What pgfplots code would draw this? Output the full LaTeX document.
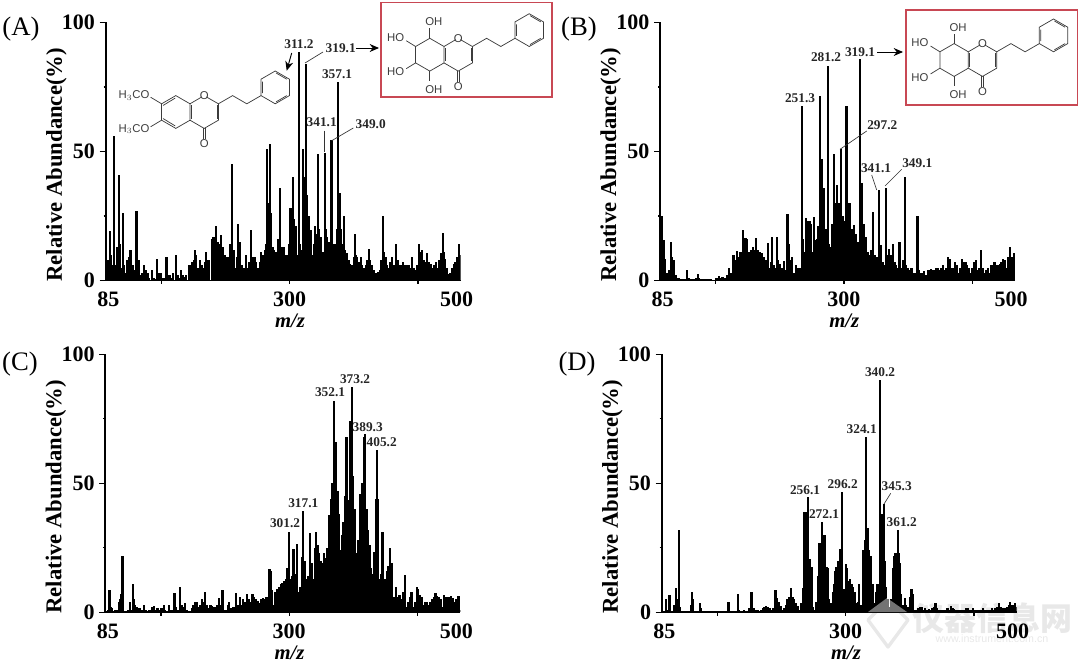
\documentclass[border=0pt]{standalone}
\usepackage{fontspec}
\setmainfont{Liberation Serif}
\newfontfamily\sansf{Liberation Sans}
\newfontfamily\cjk{Noto Sans CJK SC}
\usepackage{pgfplots}
\pgfplotsset{compat=1.18}
\usetikzlibrary{arrows.meta}

\definecolor{boxred}{RGB}{200,72,84}
\definecolor{struct}{RGB}{60,60,60}

\pgfplotsset{
  spectrum/.style={
    scale only axis,
    width=266.25pt, height=193.5pt,
    anchor=south west,
    xmin=85, xmax=500, ymin=0, ymax=100,
    axis x line*=bottom, axis y line*=left,
    axis line style={line width=1.3pt, -},
    xtick={85,300,500},
    xticklabels={\hspace*{4pt}85,300,500\hspace*{6pt}},
    xtick style={draw=none},
    extra x ticks={150,300,450},
    extra x tick labels={,,},
    extra x tick style={major tick length=2.5pt, xtick style={draw=black,line width=1pt}},
    ytick={0,50,100},
    yticklabels={0,50,100},
    minor ytick={25,75},
    major tick length=4.5pt,
    minor tick length=1.5pt,
    tick align=outside,
    ytick style={line width=1pt, black},
    minor y tick style={line width=1pt, black},
    ticklabel style={font=\fontsize{16.5}{18}\bfseries},
    xticklabel style={yshift=-.5pt},
    xlabel={\textit{m/z}},
    ylabel={Relative Abundance(\%)},
    xlabel style={font=\fontsize{15.5}{17}\bfseries, at={(axis description cs:0.519,-0.155)}, anchor=center},
    ylabel style={font=\fontsize{17}{19}\bfseries, at={(axis description cs:-0.139,0.448)}, anchor=center, rotate=0},
  },
  sticks/.style={ycomb, black, no markers, line width=1.65pt},
}

% chromone skeleton, coordinates in bond lengths, y downwards
\newcommand{\chromone}[3]{%
  \begin{scope}[shift={(#1,#2)}, x=#3*.75pt, y=-#3*.75pt, draw=struct, line width=.55pt]
    \draw (-.866,-1) -- (0,-.5) -- (0,.5) -- (-.866,1) -- (-1.732,.5) -- (-1.732,-.5) -- cycle;
    \draw (0,-.5) -- (.72,-.92) (1.0,-.92) -- (1.732,-.5) -- (1.732,.5) -- (.866,1) -- (0,.5);
    \draw (.09,-.4) -- (.09,.4) (1.64,-.4) -- (1.64,.4);
    \draw (.8,1) -- (.8,1.65) (.93,1) -- (.93,1.65);
    \draw (1.732,-.5) -- (2.598,-1) -- (3.464,-.5) -- (4.33,-1);
    \draw (4.33,-1) -- (4.33,-2) -- (5.196,-2.5) -- (6.062,-2) -- (6.062,-1) -- (5.196,-.5) -- cycle;
    \draw (4.42,-1.15) -- (4.42,-1.85) (5.25,-2.38) -- (5.9,-2.0) (5.9,-1.0) -- (5.25,-.62);
    \node[text=struct, font=\sansf\fontsize{8.5}{9}\selectfont, inner sep=0pt] at (.866,-1) {O};
    \node[text=struct, font=\sansf\fontsize{8.5}{9}\selectfont, inner sep=0pt] at (.866,1.95) {O};
  \end{scope}}

% hexahydroxy left ring substituents
\newcommand{\tetraol}[3]{%
  \begin{scope}[shift={(#1,#2)}, x=#3*.75pt, y=-#3*.75pt, draw=struct, line width=.55pt,
      every node/.style={text=struct, font=\sansf\fontsize{8.5}{9}\selectfont, inner sep=0pt}]
    \draw (-.866,-1) -- (-.866,-1.6) (-.866,1) -- (-.866,1.6);
    \draw (-1.732,-.5) -- (-2.3,-.85) (-1.732,.5) -- (-2.3,.85);
    \node at (-.62,-2.0) {OH};
    \node at (-.62,2.1) {OH};
    \node at (-2.95,-1.05) {HO};
    \node at (-2.95,1.05) {HO};
  \end{scope}}

\begin{document}
\begin{tikzpicture}[x=.75pt,y=.75pt]
\path[use as bounding box] (0,0) rectangle (1080,662);

% watermark, under the axes
\begin{scope}[yshift=496.5pt, x=.75pt, y=-.75pt]
\node[font=\cjk\bfseries\fontsize{24}{26}\selectfont, text=black!9, inner sep=0pt] at (992,618) {仪器信息网};
\node[font=\sansf\fontsize{8}{9}\selectfont, text=black!9, inner sep=0pt] at (992,639) {www.instrument.com.cn};
\draw[black!9, line width=2.5pt, line join=round] (888,600) -- (908,620) -- (888,647) -- (868,620) -- cycle;
\end{scope}

% (A)
\begin{axis}[spectrum, at={(79.275pt,286.125pt)}]
\addplot[sticks] coordinates {
(85,3)(86,4)(88,8)(90,19)(91,10)(93,6)(95,56)(96,6)(98,13)(99,13)(101,41)(102,14)(103,5)(105,26)(106,6)(108,3)(110,8)(112,9)(114,12)(115,8)(117,6)(119,4)(121,27)(122,20)(124,8)(126,2)(128,3)(130,6)(132,4)(134,3)(136,1)(139,4)(141,1)(143,.5)(145,8.5)(147,3)(149,3)(151,1)(153,1)(156,9)(158,2)(160,2)(162,1)(164,3)(167,10)(169,2)(171,1)(173,4)(175,2)(177,1.5)(179,2)(182,6)(184,6)(186,7)(188,8)(189,12)(191,10)(193,5)(195,8)(197,6)(199,5)(201,7)(202,11)(204,8)(206,8)(209,16)(211,17)(214,21)(216,15)(218,14)(220,17.5)(222,13)(224,10)(226,9)(228,9)(230,12)(231,14)(233,45)(235,12)(237,5)(239,9)(240,22)(242,15)(244,6)(246,5)(249,10)(251,5)(253,7)(255,19.5)(257,9)(259,9)(261,7)(263,5)(265,7)(267,11)(269,10)(271,12)(273,14)(274,51)(275,30)(277,53)(278,26)(280,13)(282,12)(284,11)(286,16)(289,36)(291,13)(293,13)(295,10)(297,10)(299,14)(301,28)(302,22)(304,40)(305,24)(307,21)(308,9)(310,10)(311,88.6)(312,14)(314,12)(316,51)(317,40)(319,84)(320,33)(322,25)(324,15)(325,19.5)(327,10)(329,14)(330,21)(331,18)(333,49)(334,20)(336,17)(338,8)(339,11)(341,49.5)(342,20)(344,17)(346,15)(347,15)(349,54.4)(350,16)(352,14)(354,14)(355,20)(357,77)(359,34)(360,20)(362,14)(364,25)(365,12)(367,10.5)(369,8)(371,6.5)(373,6)(375,9)(376,18)(377,10)(379,9)(381,7)(383,9)(385,6)(387,5)(389,6)(391,8)(393,12.4)(394,8)(396,6)(398,4)(400,3)(402,3)(404,3.4)(406,4)(407,8)(409,25)(410,11)(412,9)(414,6)(416,5)(418,7)(420,9)(422,6)(424,14)(425,8)(427,8)(429,6)(431,6)(433,7)(435,6)(437,6)(439,6)(441,5)(443,9)(445,5)(447,4)(449,6)(451,14)(453,11)(455,12)(457,8)(459,7)(461,10.5)(463,7)(465,6.5)(467,5)(469,6)(471,7)(473,5)(475,8)(477,10.5)(479,18.6)(480,11)(482,8.5)(484,5)(486,2.7)(488,3)(490,5)(492,6.5)(494,7)(496,9)(498,14)(500,10)
};
\end{axis}

% (B)
\begin{axis}[spectrum, at={(495pt,286.125pt)}]
\addplot[sticks] coordinates {
(85,4)(87,25)(89,15.6)(91,8.5)(93,3)(95,3)(96,4)(98,15)(99,9)(101,8)(103,2)(105,1)(107,.8)(109,.6)(111,.5)(113,.5)(115,.5)(117,4)(119,.8)(121,.5)(123,.5)(125,.5)(127,1)(129,2.5)(131,1)(133,.5)(135,.5)(137,.6)(139,.6)(141,.6)(143,.5)(145,.4)(147,.3)(149,.3)(151,.8)(154,1.8)(156,.8)(158,1.2)(160,.8)(162,1)(164,2)(166,5)(168,3)(171,10)(173,8)(175,11.5)(177,9)(179,11)(180,11)(182,19.5)(183,15)(185,16.6)(187,16)(189,11)(191,10)(192,12)(194,13)(196,12)(197,16.6)(199,12)(201,11)(202,11)(204,10.5)(206,9)(208,7)(209,8)(211,14.6)(213,5)(215,7)(216,17)(218,6)(220,5)(222,17)(223,8)(225,6.5)(227,3)(228,5)(230,7.5)(232,4)(234,25.6)(236,14)(238,8)(239,9)(241,3)(243,3)(244,6)(246,5)(248,4)(249,5)(251,67.6)(252,16)(254,11)(256,24.4)(258,23)(260,23)(261,22)(263,11)(265,24.7)(267,15.6)(269,16)(270,21)(272,71.4)(274,47)(276,36)(277,36)(279,20)(281,83)(282,14)(284,13)(286,22)(288,49)(290,30)(292,37)(294,30)(295,26)(297,51)(299,25)(301,23)(303,67.6)(305,30)(307,30)(309,20)(311,18)(312,21.5)(314,18)(316,15)(318,14)(319,86)(321,37.6)(323,22)(325,12)(326,17)(328,11)(330,10)(332,12)(334,26.6)(336,10)(338,8)(339,9)(341,35)(343,13.7)(345,7)(347,6)(349,36)(351,10)(353,12.4)(355,10)(357,14)(359,7)(361,6)(363,5)(365,15)(367,5)(369,8)(371,40)(373,6)(375,5)(377,4)(379,5)(381,3)(383,3)(384,3)(386,25)(388,4)(390,3)(392,3)(394,3.5)(396,2)(398,4)(400,4)(402,4.5)(404,4)(406,4)(408,5)(410,5)(412,4)(414,5)(416,6)(418,4)(420,5)(422,9)(424,8.5)(426,5)(428,5)(430,7)(432,6)(434,3)(436,5)(438,8.5)(440,7)(442,7)(444,6)(446,5)(448,3)(450,5)(452,7)(454,8)(456,4)(458,5)(460,12)(462,5)(464,3)(466,4)(468,5)(470,3)(472,6)(474,6)(476,7)(478,6)(480,6)(482,6.5)(484,7)(486,8.5)(488,8)(490,5)(492,9)(494,13)(496,9)(498,8)(499,10.5)
};
\end{axis}

% (C)
\begin{axis}[spectrum, at={(78.975pt,37.275pt)}]
\addplot[sticks] coordinates {
(85,.5)(88,1)(90,8.7)(91,2)(93,1.5)(95,.5)(97,1)(99,1)(101,4)(102,5)(103,7)(105,22)(106,1)(108,.5)(110,.5)(112,1)(114,4)(115,1)(117,11)(118,5)(120,3)(122,2)(124,1.5)(126,1.5)(128,1)(130,3)(132,1)(134,.5)(136,1)(138,1)(140,2)(142,2.5)(144,1)(146,1.5)(148,1)(150,1.5)(152,1.5)(154,3)(155,1)(157,.5)(159,3)(161,.8)(163,1)(164,1)(166,7.4)(168,2)(170,1)(172,10)(174,3)(176,2)(178,3.5)(180,1)(182,.5)(184,.5)(186,1.5)(188,3)(190,4)(192,4)(194,2)(196,3)(198,5)(200,4)(202,8)(204,3)(206,1.5)(208,3)(210,2.5)(212,2)(214,2)(216,3)(218,5.5)(220,3)(222,8.7)(224,1)(226,1)(228,3)(230,4)(232,1.5)(234,2)(236,2)(238,7.4)(240,3)(242,6)(244,3)(246,5)(248,4)(251,7)(253,5)(255,4)(257,7)(259,6)(261,5)(263,4.5)(265,3.5)(267,5)(269,5.5)(271,5)(273,6)(275,6)(277,16.7)(278,16)(280,8.6)(282,3)(284,8)(286,9)(288,10)(290,11)(292,11.5)(294,12)(296,13)(298,17)(300,31)(302,13)(303,14)(305,24.5)(307,15)(309,26.5)(311,8)(313,10)(315,21.6)(316,39.4)(318,20)(320,13)(322,14)(324,30.6)(326,19)(328,13)(330,25)(331,31)(333,26)(335,23)(337,20)(339,19)(341,23)(343,21)(344,25)(345,19)(347,37.7)(349,44)(350,50)(352,82)(353,44)(355,66)(357,47)(358,38)(360,24)(362,30)(363,35)(365,45)(367,68)(369,43.5)(371,74)(373,87.5)(375,53)(377,40)(378,12.5)(379,23)(381,28)(383,46)(385,50)(387,68)(388,67)(389,69)(391,40)(392,32)(394,26)(395,17)(397,15)(399,23.5)(401,24)(402,44)(403,63)(404,44)(406,13)(407,15)(409,31)(411,13)(413,13)(415,16)(416,18)(418,25)(420,19)(422,6)(423,6)(425,9.7)(427,6)(429,6.7)(431,5)(433,8)(435,14.5)(437,2)(439,4)(441,6)(443,7.8)(445,2)(447,4)(449,10)(451,9)(453,6.7)(455,6)(457,3)(459,4)(461,4)(463,3)(465,4)(467,5)(469,6)(471,7.4)(473,6.5)(475,6)(477,5)(479,2)(481,6.7)(483,6)(485,6)(487,5.8)(489,6.3)(491,5.5)(493,4)(495,5)(497,3)(498,6.5)(500,1)
};
\end{axis}

% (D)
\begin{axis}[spectrum, at={(496.275pt,37.275pt)}]
\addplot[sticks] coordinates {
(85,.4)(88,.4)(90,5)(91,1)(94,6.7)(95,5)(97,.6)(99,1)(100,3)(102,9.6)(103,5)(105,32)(106,2)(108,.4)(111,.4)(114,.4)(117,.4)(119,3)(120,8)(121,5)(122,2)(124,.4)(127,.4)(130,3.5)(131,1.5)(133,.3)(136,.3)(139,.3)(142,.3)(145,.3)(148,.3)(151,.2)(154,.6)(157,.4)(160,.3)(163,4)(164,1)(167,.3)(170,.3)(174,7)(175,1)(178,.3)(181,1)(184,.5)(187,1.5)(189,1.5)(190,8)(191,1.8)(193,1.5)(195,1)(197,1)(199,.5)(201,1)(203,1.5)(205,2)(207,2.5)(209,2)(211,1.5)(213,1)(215,1.5)(217,3)(218,8.7)(220,5.4)(222,4)(224,2.5)(226,1)(228,1.5)(230,3)(232,5)(234,6)(236,9.3)(238,6)(240,5)(242,3.5)(244,2.5)(246,1)(248,3.5)(250,9.3)(252,39)(253,39)(254,39)(256,44.6)(257,20.5)(258,20.5)(260,17.7)(261,15)(262,2)(264,1)(266,4)(268,14)(269,27)(270,27)(272,35)(273,30)(275,30)(276,30)(278,17.7)(279,17)(280,5)(281,5)(283,3.5)(285,8)(286,11)(288,16)(289,17.7)(291,20)(293,24.5)(294,24)(296,46.5)(298,9)(300,18.6)(302,17)(303,12)(305,13)(307,11)(309,10)(311,8)(313,3.5)(315,4)(316,11)(318,3)(320,20)(321,24)(323,28)(324,68)(325,32)(326,32.5)(327,24)(328,15)(330,22)(332,11)(334,3.5)(336,8)(337,11)(338,11)(340,90)(341,38)(342,38)(343,38)(345,42)(346,20)(347,10)(349,5)(351,2)(353,5)(355,17)(357,22)(358,23)(359,23)(361,32)(362,23)(363,19)(365,7)(367,3)(369,5.4)(371,3)(373,2)(375,6)(377,9)(379,7)(381,1)(383,1)(385,1.5)(387,2)(389,2)(391,1)(393,1.5)(395,1)(397,1.2)(399,1)(401,1.5)(403,2)(405,3.5)(407,1.5)(409,1)(411,1)(413,1)(415,.8)(417,1)(419,1.5)(421,1)(423,2.5)(425,1.5)(427,1.2)(429,1)(431,1)(433,.8)(435,1)(437,1)(439,1)(441,1.5)(443,1.5)(445,1)(447,1)(449,1.5)(451,1)(453,1)(455,1)(457,1)(459,1)(461,1.5)(463,1)(465,1)(467,1)(469,1)(471,1.5)(473,1)(475,1.5)(477,2)(479,3.5)(481,2)(483,1.5)(485,1.5)(487,1.5)(489,2)(491,3)(492,4)(494,3)(496,3)(498,3.5)(500,2)
};
\end{axis}

% annotations in pixel coordinates of the reference
\begin{scope}[yshift=496.5pt, x=.75pt, y=-.75pt]
\fill[white, opacity=.45] (868,612) -- (887,598) -- (907,612) -- cycle;
\foreach \p/\q/\s in {21/29/(A),579/29/(B),20/364/(C),577/364/(D)}
  \node[font=\fontsize{20}{22}\selectfont] at (\p,\q) {\s};

\begin{scope}[every node/.style={font=\fontsize{10}{11}\bfseries\selectfont, inner sep=0pt, text=black!85}]
  \node at (299,44) {311.2};
  \node at (340.7,48) {319.1};
  \node at (337,74) {357.1};
  \node at (321.7,122.3) {341.1};
  \node at (370.7,124) {349.0};
  \node at (800,97.7) {251.3};
  \node at (826,57.3) {281.2};
  \node at (860,51.7) {319.1};
  \node at (882.3,125.3) {297.2};
  \node at (876,167.7) {341.1};
  \node at (917.3,163.3) {349.1};
  \node at (285,523.3) {301.2};
  \node at (303.3,502.7) {317.1};
  \node at (330,391.7) {352.1};
  \node at (355,379.3) {373.2};
  \node at (367.7,426.7) {389.3};
  \node at (381.7,441.7) {405.2};
  \node at (805,490) {256.1};
  \node at (824,514) {272.1};
  \node at (842.7,484) {296.2};
  \node at (861.7,428.7) {324.1};
  \node at (880,372) {340.2};
  \node at (896.7,485.7) {345.3};
  \node at (901.7,522.3) {361.2};
\end{scope}

\draw[line width=.5pt, black!80] (323,52) -- (305,63);
\draw[line width=.5pt, black!80] (324.7,130.7) -- (324.7,152);
\draw[line width=.5pt, black!80] (353.3,128) -- (331.7,140.7);
\draw[line width=.5pt, black!80] (866.7,131) -- (840,149.3);
\draw[line width=.5pt, black!80] (871.7,175) -- (876.7,190);
\draw[line width=.5pt, black!80] (901.7,169.3) -- (885,186);
\draw[line width=.5pt, black!80] (890.7,493.3) -- (884,504);
\draw[line width=.7pt, -{Stealth[length=7pt,width=6pt]}] (291.7,53) -- (286.7,70.7);
\draw[line width=.7pt, -{Stealth[length=7pt,width=6pt]}] (356,48) -- (379,48);
\draw[line width=.7pt, -{Stealth[length=7pt,width=6pt]}] (877,52) -- (903,52);

% boxes and structures
\draw[boxred, line width=1.2pt] (380.7,2.7) rectangle (552,97);
\draw[boxred, line width=1.2pt] (906,10) rectangle (1077.3,105.3);
\chromone{444}{54.7}{16.4}
\tetraol{444}{54.7}{16.4}
\chromone{968.3}{60}{16.4}
\tetraol{968.3}{60}{16.4}

\chromone{190}{112}{16.4}
\begin{scope}[shift={(190,112)}, x=16.4*.75pt, y=-16.4*.75pt, draw=struct, line width=.55pt]
  \draw (-1.64,-.4) -- (-.9,-.85) (-1.64,.4) -- (-.9,.85);
  \draw (-1.732,-.5) -- (-2.4,-.9) (-1.732,.5) -- (-2.4,.9);
  \node[text=struct, font=\sansf\fontsize{8.5}{9}\selectfont, anchor=east, inner sep=0pt] at (-2.45,-1.0) {H$_3$CO};
  \node[text=struct, font=\sansf\fontsize{8.5}{9}\selectfont, anchor=east, inner sep=0pt] at (-2.45,1.05) {H$_3$CO};
\end{scope}
\end{scope}
\end{tikzpicture}
\end{document}
